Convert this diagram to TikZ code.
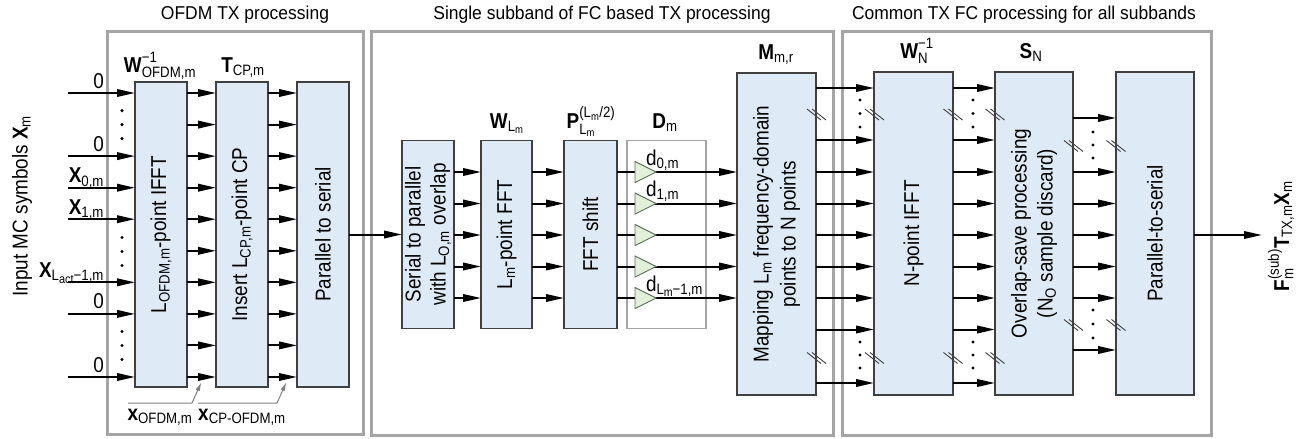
\documentclass[tikz,border=0pt]{standalone}
\usepackage{amsmath}
\usepackage{fontspec}
\setmainfont{Liberation Sans}[FakeStretch=0.88]
\newfontfamily\ttlfont{Liberation Sans}[FakeStretch=0.94]
\usetikzlibrary{arrows.meta}
\definecolor{blkfill}{HTML}{DEEBF7}
\definecolor{blkline}{HTML}{404040}
\definecolor{grpline}{HTML}{A5A5A5}
\definecolor{ampfill}{HTML}{E2F0D9}
\definecolor{ampline}{HTML}{5F6F5F}
\definecolor{ptrgray}{HTML}{808080}
\begin{document}
\begin{tikzpicture}[x=1pt,y=-1pt,
  every node/.style={inner sep=0pt, outer sep=0pt, font=\fontsize{21.5}{27}\selectfont},
  grp/.style={draw=grpline, line width=3pt},
  blk/.style={draw=blkline, fill=blkfill, line width=1.2pt},
  dbox/.style={draw=grpline, fill=white, line width=1.2pt},
  sig/.style={line width=2pt, -{Triangle[length=18pt,width=7.5pt]}},
  amp/.style={draw=ampline, fill=ampfill, line width=0.9pt},
  ttl/.style={font=\ttlfont\fontsize{18.6}{22}\selectfont},
  ptr/.style={draw=ptrgray, line width=1pt, -{Triangle[length=8pt,width=4pt]}},
  dotm/.style={fill=black, circle, minimum size=3.4pt},
  slsh/.style={draw=blkline, line width=0.9pt},
]
\useasboundingbox (0,0) rectangle (1307,439);

% group boxes
\node[grp, minimum width=256pt, minimum height=403pt] (g1) at (235,232.5) {};
\node[grp, minimum width=462pt, minimum height=404pt] (g2) at (602,233) {};
\node[grp, minimum width=369pt, minimum height=404pt] (g3) at (1026.5,233) {};
\node[ttl] (t1) at (245,15) {OFDM TX processing};
\node[ttl] (t2) at (602,15) {Single subband of FC based TX processing};
\node[ttl] (t3) at (1024,15) {Common TX FC processing for all subbands};

% ---------- OFDM TX ----------
\node[blk, minimum width=52pt, minimum height=305pt] (ifft) at (161,234.5) {};
\node[blk, minimum width=52pt, minimum height=305pt] (cp) at (242,234.5) {};
\node[blk, minimum width=52pt, minimum height=305pt] (ps1) at (323,234.5) {};
\node[rotate=90] (ifftt) at (ifft.center) {L$_{\text{OFDM,m}}$-point IFFT};
\node[rotate=90] (cpt) at (cp.center) {Insert L$_{\text{CP,m}}$-point CP};
\node[rotate=90] (ps1t) at (ps1.center) {Parallel to serial};
\node[anchor=base] (wofdm) at (160,72) {$\textbf{W}^{\text{−1}}_{\text{OFDM,m}}$};
\node[anchor=base] (tcp) at (243,72) {$\textbf{T}_{\text{CP,m}}$};

\foreach \y in {93,124.6,156.1,187.7,219.2,250.8,282.3,313.9,345.4,377}{
  \draw[sig] (ifft.east |- 0,\y) -- (cp.west |- 0,\y);
  \draw[sig] (cp.east |- 0,\y) -- (ps1.west |- 0,\y);
}
\foreach \y/\lab [count=\i] in {93/0, 156.1/0, 187.7/{$\textbf{X}_{\text{0,m}}$}, 219.2/{$\textbf{X}_{\text{1,m}}$},
    282.3/{$\textbf{X}_{\text{L}\raisebox{-2.5pt}{\fontsize{12.5}{12.5}\selectfont act}\text{−1,m}}$}, 313.9/0, 377/0}{
  \coordinate (in\i) at (68,\y);
  \draw[sig] (in\i) -- (ifft.west |- in\i);
  \node[anchor=base east] (inl\i) at (104,\y-5) {\lab};
}
\foreach \c in {124.6,251.5,345.5}{
  \foreach \d in {-14,0,14}{
    \node[dotm] at (122,\c+\d) {};
  }
}
\node[rotate=90] (inlab) at (22,206) {Input MC symbols $\textbf{X}_{\text{m}}$};

\node (xo) at (160,417) {$\textbf{x}_{\text{OFDM,m}}$};
\node (xcp) at (242,417) {$\textbf{x}_{\text{CP-OFDM,m}}$};
\coordinate (pa1) at (128,403); \coordinate (pa2) at (192,403); \coordinate (pa3) at (201,383);
\coordinate (pb1) at (198,403); \coordinate (pb2) at (277,403); \coordinate (pb3) at (286,383);
\draw[ptr] (pa1) -- (pa2) -- (pa3);
\draw[ptr] (pb1) -- (pb2) -- (pb3);

% ---------- single subband ----------
\node[blk, minimum width=52pt, minimum height=188pt] (s2p) at (428,234.5) {};
\node[blk, minimum width=51pt, minimum height=188pt] (fft) at (506.5,234.5) {};
\node[blk, minimum width=53pt, minimum height=188pt] (shift) at (590.5,234.5) {};
\node[dbox, minimum width=79pt, minimum height=188pt] (dm) at (666.5,234.5) {};
\node[blk, minimum width=79pt, minimum height=322pt] (map) at (776.5,234) {};
\node[rotate=90, align=center, font=\fontsize{21.5}{25}\selectfont] (s2pt) at (s2p.center) {Serial to parallel\\with L$_{\text{O,m}}$ overlap};
\node[rotate=90] (fftt) at (fft.center) {L$_{\text{m}}$-point FFT};
\node[rotate=90] (shiftt) at (shift.center) {FFT shift};
\node[rotate=90, align=center, font=\fontsize{21.5}{27}\selectfont] (mapt) at (map.center) {Mapping L$_{\text{m}}$ frequency-domain\\points to N points};
\node[anchor=base] (wl) at (507,128) {$\textbf{W}_{\text{L}_{\text{m}}}$};
\node[anchor=base] (pl) at (591,128) {$\textbf{P}^{\text{(L}_{\text{m}}\text{/2)}}_{\text{L}_{\text{m}}}$};
\node[anchor=base] (dml) at (665,128) {$\textbf{D}_{\text{m}}$};
\node[anchor=base] (mml) at (776,59) {$\textbf{M}_{\text{m,r}}$};

\draw[sig] (ps1.east) -- (s2p.west);
\foreach \y in {172,203.5,235,266.5,298}{
  \draw[sig] (s2p.east |- 0,\y) -- (fft.west |- 0,\y);
  \draw[sig] (fft.east |- 0,\y) -- (shift.west |- 0,\y);
  \draw[sig] (shift.east |- 0,\y) -- (map.west |- 0,\y);
  \draw[amp] (635,\y-10.5) -- (656,\y) -- (635,\y+10.5) -- cycle;
}
\node[anchor=base west] (d0) at (646,165) {d$_{\text{0,m}}$};
\node[anchor=base west] (d1) at (646,196.5) {d$_{\text{1,m}}$};
\node[anchor=base west] (dl) at (646,291) {d$_{\text{L}\raisebox{-2pt}{\fontsize{12}{12}\selectfont m}\text{−1,m}}$};

% ---------- common ----------
\node[blk, minimum width=79pt, minimum height=323pt] (ifft3) at (913.5,233.5) {};
\node[blk, minimum width=78pt, minimum height=323pt] (ols) at (1034,233.5) {};
\node[blk, minimum width=78pt, minimum height=323pt] (ps3) at (1155,233.5) {};
\node[rotate=90] (ifft3t) at (ifft3.center) {N-point IFFT};
\node[rotate=90, align=center, font=\fontsize{21.5}{26}\selectfont] (olst) at (ols.center) {Overlap-save processing\\(N$_{\text{O}}$ sample discard)};
\node[rotate=90] (ps3t) at (ps3.center) {Parallel-to-serial};
\node[anchor=base] (wn) at (917,58) {$\textbf{W}^{\text{−1}}_{\text{N}}$};
\node[anchor=base] (sn) at (1031,58) {$\textbf{S}_{\text{N}}$};

\foreach \y in {88,140,172,203.5,235,266.5,298,329.5,383}{
  \draw[sig] (map.east |- 0,\y) -- (ifft3.west |- 0,\y);
  \draw[sig] (ifft3.east |- 0,\y) -- (ols.west |- 0,\y);
}
\foreach \y in {118,172,203.5,235,266.5,298,350}{
  \draw[sig] (ols.east |- 0,\y) -- (ps3.west |- 0,\y);
}
\coordinate (outend) at (1262,235);
\draw[sig] (ps3.east |- outend) -- (outend);
\node[rotate=90] (outl) at (1281,236) {$\textbf{F}^{\text{(sub)}}_{\text{m}}\textbf{T}_{\text{TX,m}}\textbf{X}_{\text{m}}$};

% dots
\foreach \x in {860,973}{
  \foreach \y in {100,113.5,127,342,355,368}{
    \node[dotm] at (\x,\y) {};
  }
}
\foreach \y in {132,145,158,310,324,338}{
  \node[dotm] at (1093,\y) {};
}
% break marks
\foreach \x/\y in {816.5/114.5, 874.5/114.5, 816.5/358, 874.5/358,
                   953/114.5, 995/114.5, 953/358, 995/358,
                   1073.5/146, 1116/146, 1073.5/325, 1116/325}{
  \draw[slsh] (\x-9.5,\y-5.5) -- (\x+4.5,\y+5.5);
  \draw[slsh] (\x-4.5,\y-5.5) -- (\x+9.5,\y+5.5);
}
\end{tikzpicture}
\end{document}
